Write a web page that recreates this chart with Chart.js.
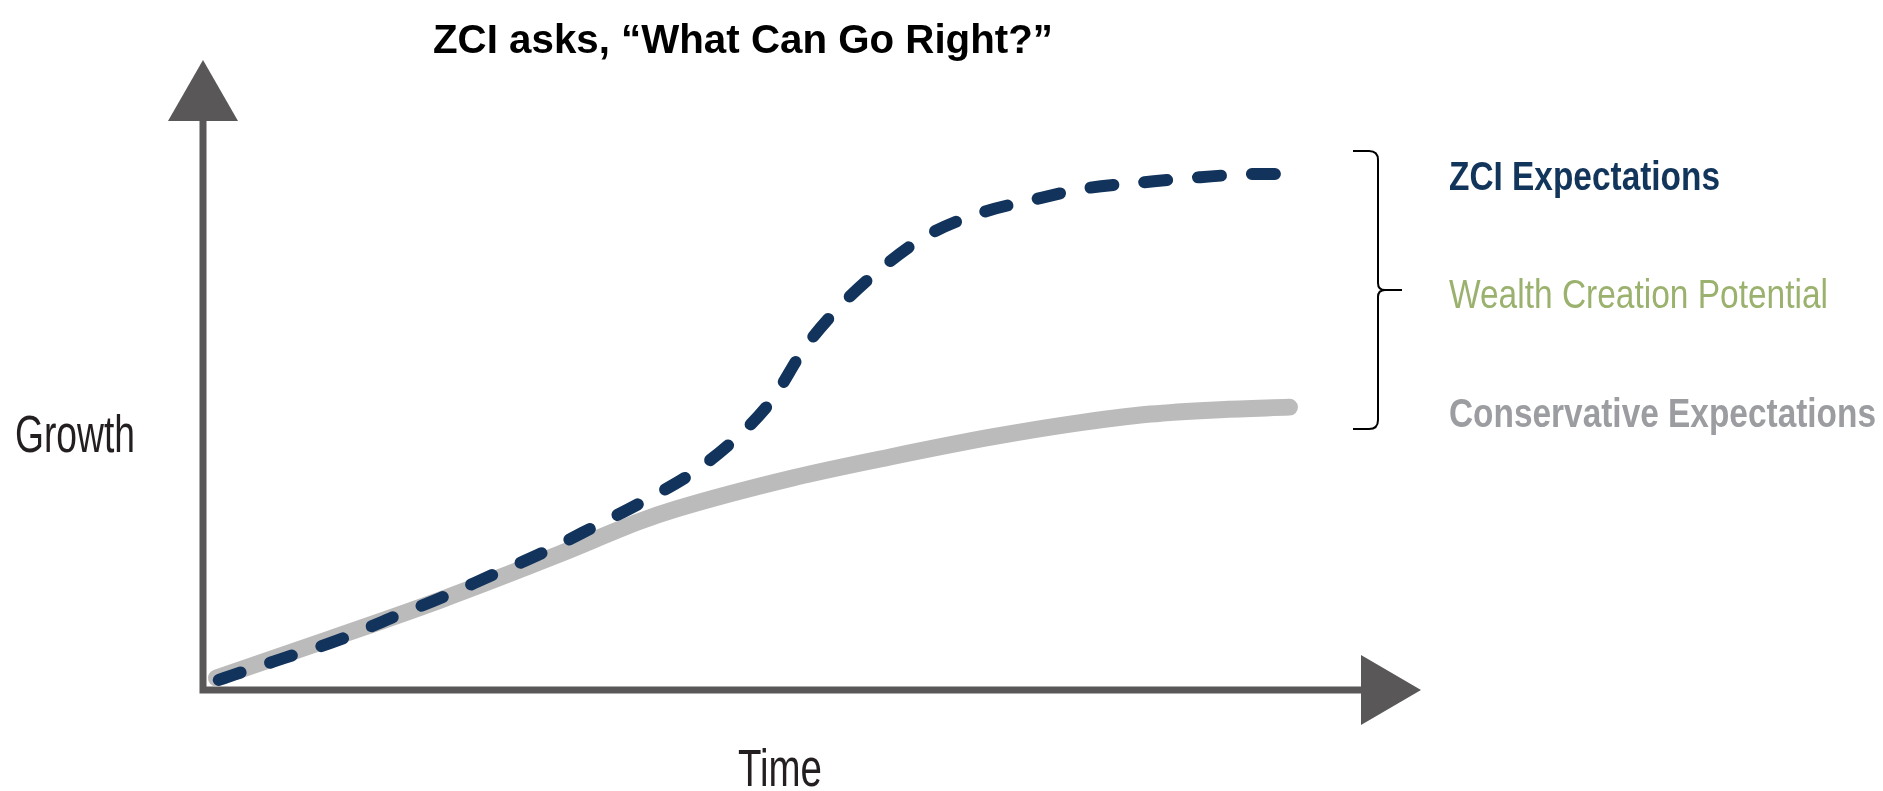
<!DOCTYPE html>
<html><head><meta charset="utf-8">
<script src="https://cdn.jsdelivr.net/npm/chart.js@4.4.0/dist/chart.umd.min.js"></script>
<style>html,body{margin:0;padding:0;background:#fff;overflow:hidden}#wrap{width:1883px;height:791px;position:relative}</style>
</head><body><div id="wrap"><canvas id="c" width="1883" height="791"></canvas></div>
<script>
// ---- data (abstract units: Time 0-100, Growth 0-100) ----
const titleText = 'ZCI asks, \u201cWhat Can Go Right?\u201d';
const xAxisLabel = 'Time';
const yAxisLabel = 'Growth';
const seriesNames = ['ZCI Expectations', 'Wealth Creation Potential', 'Conservative Expectations'];
const axisRange = [0, 100];

const zciTime   = [1.3, 2.5, 6.7, 11.1, 15.4, 19.5, 23.8, 28.0, 32.1, 36.4, 40.3, 43.9, 46.7, 49.4, 52.4, 55.8, 59.5, 63.8, 68.1, 72.7, 77.3, 81.9, 86.5, 88.1];
const zciGrowth = [1.6, 2.4, 5.1, 7.9, 11.4, 14.6, 18.3, 21.9, 25.9, 30.2, 34.6, 40.2, 46.0, 54.3, 61.1, 67.1, 72.2, 75.7, 77.8, 79.7, 80.6, 81.4, 81.9, 81.9];

const consTime   = [1.1, 10.4, 19.5, 29.3, 35.9, 38.8, 48.4, 56.7, 64.9, 71.2, 77.8, 83.5, 89.2];
const consGrowth = [1.9, 8.1, 14.3, 21.6, 26.8, 28.7, 33.65, 37.1, 40.2, 42.2, 43.8, 44.5, 44.9];

const FONT_SANS = '"Liberation Sans", Arial, Helvetica, sans-serif';

const toPts = (xs, ys) => xs.map((x, i) => ({x: x, y: ys[i]}));

const axesPlugin = {
  id: 'axesArrows',
  beforeDatasetsDraw(chart) {
    const ctx = chart.ctx, xs = chart.scales.x, ys = chart.scales.y;
    const x0 = xs.getPixelForValue(axisRange[0]), y0 = ys.getPixelForValue(axisRange[0]);
    const xEnd = xs.getPixelForValue(axisRange[1]), yEnd = ys.getPixelForValue(axisRange[1]);
    ctx.save();
    ctx.strokeStyle = '#595758';
    ctx.fillStyle = '#595758';
    ctx.lineWidth = 7;
    ctx.lineJoin = 'miter';
    ctx.lineCap = 'butt';
    ctx.beginPath();
    ctx.moveTo(x0, yEnd + 58);
    ctx.lineTo(x0, y0);
    ctx.lineTo(xEnd - 58, y0);
    ctx.stroke();
    ctx.beginPath();
    ctx.moveTo(x0, yEnd);
    ctx.lineTo(x0 - 35, yEnd + 61);
    ctx.lineTo(x0 + 35, yEnd + 61);
    ctx.closePath();
    ctx.fill();
    ctx.beginPath();
    ctx.moveTo(xEnd, y0);
    ctx.lineTo(xEnd - 60, y0 - 35);
    ctx.lineTo(xEnd - 60, y0 + 35);
    ctx.closePath();
    ctx.fill();
    ctx.restore();
  }
};

// draw text squeezed horizontally to a target width (narrow-font look)
function fitText(ctx, text, x, y, targetW) {
  const w = ctx.measureText(text).width;
  const sx = Math.min(1, targetW / w);
  ctx.save();
  ctx.translate(x, y);
  ctx.scale(sx, 1);
  ctx.fillText(text, 0, 0);
  ctx.restore();
}

const textPlugin = {
  id: 'labels',
  afterDraw(chart) {
    const ctx = chart.ctx;
    ctx.save();
    ctx.textBaseline = 'alphabetic';
    // title
    ctx.fillStyle = '#000000';
    ctx.font = 'bold 41px ' + FONT_SANS;
    ctx.textAlign = 'left';
    fitText(ctx, titleText, 433, 53, 620);
    // axis labels
    ctx.fillStyle = '#231f20';
    ctx.font = '51px ' + FONT_SANS;
    fitText(ctx, yAxisLabel, 15, 452, 120);
    fitText(ctx, xAxisLabel, 738, 786, 84);
    // bracket
    ctx.strokeStyle = '#000000';
    ctx.lineWidth = 2;
    ctx.beginPath();
    ctx.moveTo(1353, 151);
    ctx.lineTo(1369, 151);
    ctx.quadraticCurveTo(1378, 151, 1378, 160);
    ctx.lineTo(1378, 283);
    ctx.quadraticCurveTo(1378, 290, 1385, 290);
    ctx.lineTo(1402, 290);
    ctx.moveTo(1385, 290);
    ctx.quadraticCurveTo(1378, 290, 1378, 297);
    ctx.lineTo(1378, 420);
    ctx.quadraticCurveTo(1378, 429, 1369, 429);
    ctx.lineTo(1353, 429);
    ctx.stroke();
    // right-hand labels
    ctx.font = 'bold 40px ' + FONT_SANS;
    ctx.fillStyle = '#12355b';
    fitText(ctx, seriesNames[0], 1449, 190, 271);
    ctx.font = '40px ' + FONT_SANS;
    ctx.fillStyle = '#9bb16e';
    fitText(ctx, seriesNames[1], 1449, 308, 379);
    ctx.font = 'bold 40px ' + FONT_SANS;
    ctx.fillStyle = '#9b9da0';
    fitText(ctx, seriesNames[2], 1449, 427, 427);
    ctx.restore();
  }
};

new Chart(document.getElementById('c'), {
  type: 'line',
  data: {
    datasets: [
      {
        label: seriesNames[0],
        data: toPts(zciTime, zciGrowth),
        borderColor: '#12335b',
        borderWidth: 12,
        borderDash: [23, 31],
        borderCapStyle: 'round',
        borderJoinStyle: 'round',
        cubicInterpolationMode: 'monotone',
        pointRadius: 0,
        fill: false
      },
      {
        label: seriesNames[2],
        data: toPts(consTime, consGrowth),
        borderColor: '#bcbbbb',
        borderWidth: 17,
        borderCapStyle: 'round',
        borderJoinStyle: 'round',
        cubicInterpolationMode: 'monotone',
        pointRadius: 0,
        fill: false
      }
    ]
  },
  options: {
    responsive: false,
    animation: false,
    layout: {padding: {left: 203, right: 462, top: 60, bottom: 101}},
    scales: {
      x: {type: 'linear', min: axisRange[0], max: axisRange[1], display: false},
      y: {type: 'linear', min: axisRange[0], max: axisRange[1], display: false}
    },
    plugins: {legend: {display: false}, tooltip: {enabled: false}, title: {display: false}},
    elements: {line: {clip: false}}
  },
  plugins: [axesPlugin, textPlugin]
});
</script>
</body></html>
